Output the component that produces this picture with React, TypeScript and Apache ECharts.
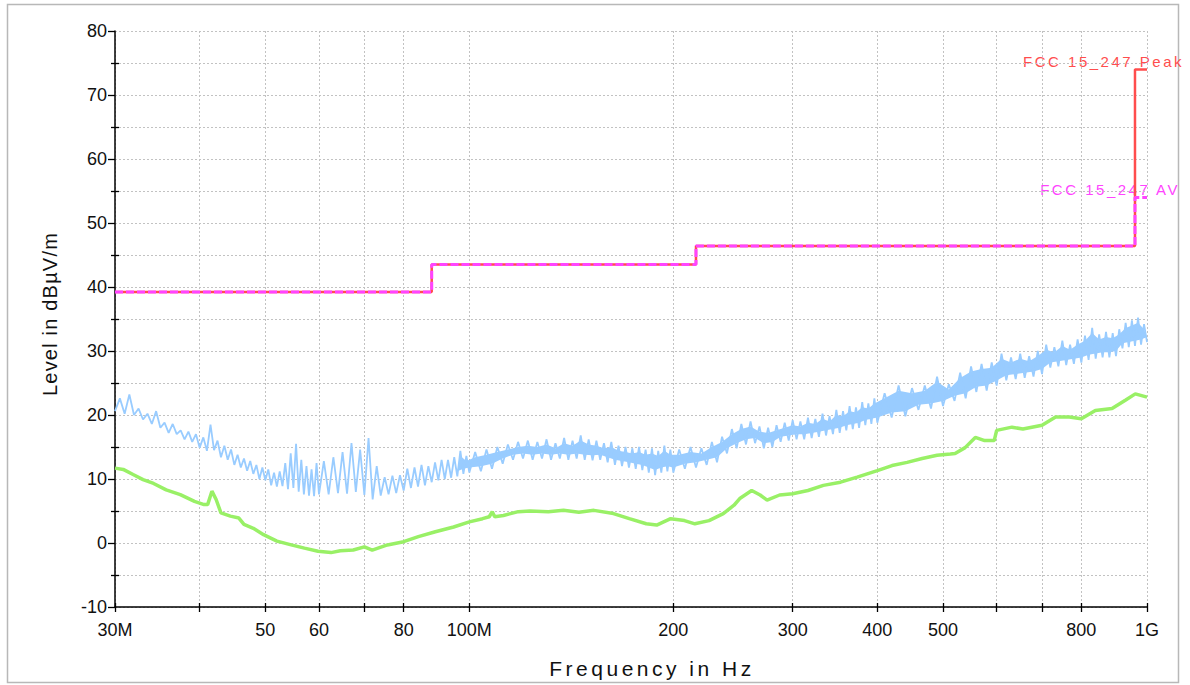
import React, { useEffect, useRef } from 'react';
import * as echarts from 'echarts';

// ---- axes (frequencies in MHz) ----
const xTickMHz = [30, 40, 50, 60, 70, 80, 100, 200, 300, 400, 500, 600, 700, 800, 1000];
const xLabelMHz = [30, 50, 60, 80, 100, 200, 300, 400, 500, 800, 1000];
const yMajor = [-10, 0, 10, 20, 30, 40, 50, 60, 70, 80];
const yMinor = [-5, 5, 15, 25, 35, 45, 55, 65, 75];

// ---- limit lines [MHz, dBuV/m] ----
const peakLimit = [[30, 39.2], [88, 39.2], [88, 43.5], [216, 43.5], [216, 46.4], [960, 46.4], [960, 74], [1000, 74]];
const avLimit = [[30, 39.2], [88, 39.2], [88, 43.5], [216, 43.5], [216, 46.4], [960, 46.4], [960, 54], [1000, 54]];

// ---- peak scan (blue): alternating low / high excursions ----
const peakScanA = [[30,20.6],[30.5,22.6],[31,20.2],[31.5,23.2],[32,20],[32.5,21],[33,19.3],[33.5,20.2],[34,18.6],[34.5,20.6],[35,18],[35.5,18.8],[36,17.2],[36.5,18.6],[37,17],[37.5,17.6],[38,16.2],[38.5,17.4],[39,15.8],[39.5,17],[40,14.9],[40.5,16.5],[41,14.4],[41.5,18.5],[42,14.5],[42.5,16],[43,13.4],[43.5,15.2],[44,13],[44.5,14.6],[45,12.2],[45.5,13.8],[46,11.8],[46.5,13.2],[47,11.3],[47.5,12.8],[48,10.8],[48.5,12.2],[49,10],[49.5,11.8],[50,9.8],[50.5,11.5],[51,9],[51.5,11],[52,8.8],[52.5,11.2],[53,8.9],[53.5,12.5],[54,8.4],[54.5,14],[55,8.6],[55.5,15.5],[56,8],[56.5,13],[57,7.6],[57.5,12],[58,7.4],[58.5,11.5],[59,7.3],[59.5,12.5],[60,7.6]];
const peakScanB = [[61,12.8],[62,7.6],[63,13.4],[64,7.8],[65,14.2],[66,7.7],[67,15.6],[68,8],[69,14.6],[70,7.5],[71,16.4],[72,6.8],[73,12],[74,7.4],[75,10.3],[76,7.6],[77,10.5],[78,7.8],[79,10.6],[80,8.2],[81,11.6],[82,8.6],[83,11.8],[84,8.8],[85,12.2],[86,9],[87,12],[88,9.5],[89,12.6],[90,9.8],[91,13],[92,10],[93,13],[94,10.2],[95,13.4],[96,10.4],[97,14.4],[98,10.8],[99,13.6],[100,11]];
const peakScanC = [[102,14.2],[104,11.2],[106,14.6],[108,11.6],[110,15],[112,12.4],[114,15.4],[116,13],[118,15.8],[120,13.2],[122,16],[124,13],[126,15.8],[128,13.2],[130,16.2],[132,13],[134,15.6],[136,13.2],[138,16.4],[140,13],[142,16],[144,13.2],[146,16.8],[148,13],[150,16.2],[152,12.9],[154,16],[156,13],[158,15.6],[160,12.6],[162,15.8],[164,12.2],[166,15.2],[168,12],[170,15],[172,11.8],[174,14.8],[176,11.6],[178,15],[180,11.4],[182,14.6],[184,11],[186,14.8],[188,10.6],[190,14.4],[192,11],[194,15.2],[196,11.2],[198,14.6],[200,11]];
const peakScanD = [[204,14.6],[208,11.6],[212,15],[216,11.8],[220,14.8],[224,12.2],[228,15.8],[232,12.6],[236,16.6],[240,14],[244,17.8],[248,14.8],[252,18.6],[256,15.4],[260,19],[264,15.6],[268,18.2],[272,14.8],[276,18],[280,15],[284,18.4],[288,15.8],[292,18.8],[296,16],[300,19.2],[304,16.2],[308,19],[312,16.2],[316,19.6],[320,16.4],[324,19.4],[328,16.6],[332,20.2],[336,16.8],[340,19.8],[344,17],[348,20.8],[352,17.2],[356,20.6],[360,17.6],[364,21.4],[368,17.8],[372,21.2],[376,18],[380,22],[384,18.4],[388,21.8],[392,18.6],[396,22.6],[400,18.8]];
const peakScanE = [[410,23.4],[420,19.6],[430,24.6],[440,19.8],[450,24.2],[460,20.8],[470,24.6],[480,21],[490,26],[500,21.4],[510,24.8],[520,22.2],[530,26.6],[540,22.6],[550,27.6],[560,23.6],[570,28],[580,23.8],[590,28.2],[600,24.6],[610,29.6],[620,25.4],[630,29],[640,25.6],[650,29.6],[660,25.8],[670,29.2],[680,26],[690,30],[700,26.4],[710,31],[720,27.4],[730,30.6],[740,27.6],[750,31.6],[760,27.8],[770,31],[780,28],[790,31.8],[800,28.2],[810,32.4],[820,28.6],[830,33.6],[840,28.8],[850,32.6],[860,29],[870,33],[880,29],[890,32.8],[900,29.2],[910,33.4],[920,30.4],[930,34.4],[940,30.6],[950,34.8],[960,30.8],[970,35.2],[980,31],[990,34.2],[1000,31.4]];

// ---- average scan (green) ----
const avgScan = [[30,11.7],[30.85,11.5],[31.9,10.7],[33,9.9],[34.2,9.3],[35.7,8.3],[37.45,7.55],[39.3,6.5],[40.6,6],[41.1,6],[41.7,8.1],[42.3,6.8],[43,4.7],[44.4,4.2],[45.7,3.9],[46.5,2.9],[48,2.3],[49.7,1.3],[52,0.3],[54.6,-0.3],[57.1,-0.8],[59.8,-1.3],[62.5,-1.5],[64.5,-1.2],[67.4,-1.1],[70,-0.6],[71.9,-1.1],[75.7,-0.3],[80,0.2],[84.1,1],[89.1,1.75],[94.8,2.5],[100,3.3],[104.6,3.8],[107,4.1],[108.1,4.9],[109,4.1],[112.3,4.3],[118.1,4.9],[122.9,5],[130.8,4.9],[137.7,5.1],[145.1,4.8],[152.7,5.1],[163.2,4.6],[172.2,3.8],[182.4,3],[189,2.8],[198.2,3.8],[207.7,3.5],[215.2,3],[225.8,3.5],[237,4.6],[245.8,5.9],[251,7],[261,8.2],[268.6,7.5],[275,6.7],[287,7.5],[300,7.7],[316,8.2],[333,9],[353,9.5],[373.5,10.3],[400,11.3],[420.5,12.1],[442.6,12.6],[465.8,13.2],[490,13.7],[512.7,13.9],[521,14],[539,14.9],[558,16.5],[576,16],[595,16],[600,17.6],[632,18.1],[656,17.8],[700,18.4],[733,19.7],[768,19.7],[800,19.4],[839,20.7],[888,21],[929,22.3],[961,23.3],[1000,22.8]];

const FONT = '"Liberation Sans", Arial, sans-serif';
const lg = (pts: number[][]) => pts.map(([f, v]) => [Math.log10(f), v]);
const fmtFreq = (v: number) => {
  const f = Math.round(Math.pow(10, v));
  if (f === 1000) return '1G';
  if (f === 30 || f === 100) return f + 'M';
  return String(f);
};

// dense part of the peak scan: high excursions are the even entries of B..E, low the odd ones.
// The filled core sits a little inside the excursions so the zigzag still shows at its edges.
const CORE_INSET = 0.8;
const bandUpper: number[][] = [];
const bandLower: number[][] = [];
[peakScanB, peakScanC, peakScanD, peakScanE].forEach((full) => {
  full.forEach((p, idx) => {
    if (p[0] < 96) return;
    if (idx % 2 === 0) bandUpper.push([p[0], p[1] - CORE_INSET]);
    else bandLower.push([p[0], p[1] + CORE_INSET]);
  });
});

const spacing: Record<string, number> = {
  'Frequency in Hz': 3.5,
  'Level in dBµV/m': 1.2,
  'FCC 15_247 Peak': 2.5,
  'FCC 15_247 AV': 2.5,
};

export default function App() {
  const ref = useRef<HTMLDivElement>(null);
  useEffect(() => {
    if (!ref.current) return;
    const chart = echarts.init(ref.current, null, { renderer: 'svg' });
    const xMin = Math.log10(30);
    const xMax = 3;
    const xTicks = xTickMHz.map((f) => Math.log10(f));
    const xLabels = xLabelMHz.map((f) => Math.log10(f));
    const axisColor = '#000';
    const gridLine = { show: true, lineStyle: { color: '#c2c2c2', type: [2, 2], width: 1 } };
    const baseX = { type: 'value', min: xMin, max: xMax, position: 'bottom', gridIndex: 0 };
    const baseY = { type: 'value', min: -10, max: 80, position: 'left', gridIndex: 0 };
    const upperLg = lg(bandUpper);
    const lowerLg = lg(bandLower);

    const option: any = {
      animation: false,
      backgroundColor: '#ffffff',
      textStyle: { fontFamily: FONT },
      grid: { left: 115, top: 31, right: 43, bottom: 78, containLabel: false, outerBoundsMode: 'none' },
      xAxis: [
        {
          ...baseX,
          axisLine: { show: true, onZero: false, lineStyle: { color: axisColor, width: 1.5 } },
          axisTick: { show: true, inside: false, length: 5, customValues: xTicks, lineStyle: { color: axisColor, width: 1.3 } },
          axisLabel: { show: true, customValues: xLabels, formatter: fmtFreq, fontSize: 18, color: '#111', margin: 14, fontFamily: FONT },
          splitLine: gridLine,
        },
        {
          ...baseX,
          axisLine: { show: false, onZero: false },
          axisTick: { show: true, inside: true, length: 4, customValues: xTicks, lineStyle: { color: axisColor, width: 1.3 } },
          axisLabel: { show: false },
          splitLine: { show: false },
        },
      ],
      yAxis: [
        {
          ...baseY,
          interval: 5,
          axisLine: { show: true, onZero: false, lineStyle: { color: axisColor, width: 1.5 } },
          axisTick: { show: false },
          axisLabel: { show: true, customValues: yMajor, fontSize: 18, color: '#111', margin: 8, fontFamily: FONT },
          splitLine: gridLine,
        },
        {
          ...baseY,
          axisLine: { show: false, onZero: false },
          axisTick: { show: true, inside: false, length: 7, customValues: yMajor, lineStyle: { color: axisColor, width: 1.3 } },
          axisLabel: { show: false },
          splitLine: { show: false },
        },
        {
          ...baseY,
          axisLine: { show: false, onZero: false },
          axisTick: { show: true, inside: false, length: 4, customValues: yMinor, lineStyle: { color: axisColor, width: 1.3 } },
          axisLabel: { show: false },
          splitLine: { show: false },
        },
        {
          ...baseY,
          axisLine: { show: false, onZero: false },
          axisTick: { show: true, inside: true, length: 4, customValues: yMinor, lineStyle: { color: axisColor, width: 1.3 } },
          axisLabel: { show: false },
          splitLine: { show: false },
        },
      ],
      series: [
        {
          name: 'Peak scan core', type: 'custom', xAxisIndex: 0, yAxisIndex: 0, silent: true,
          data: [[upperLg[0][0], upperLg[0][1]]],
          renderItem: (_params: any, api: any) => {
            const pts = upperLg.map((p) => api.coord(p)).concat(lowerLg.slice().reverse().map((p) => api.coord(p)));
            return { type: 'polygon', shape: { points: pts }, style: { fill: '#99ccff', stroke: 'none' } };
          },
          z: 1,
        },
        {
          name: 'Peak scan', type: 'line', xAxisIndex: 0, yAxisIndex: 0, showSymbol: false, silent: true,
          lineStyle: { color: '#99ccff', width: 1.8 },
          data: lg([...peakScanA, ...peakScanB, ...peakScanC, ...peakScanD, ...peakScanE]),
          z: 2,
        },
        {
          name: 'Average scan', type: 'line', xAxisIndex: 0, yAxisIndex: 0, showSymbol: false, silent: true,
          lineStyle: { color: '#99f066', width: 3.5 },
          data: lg(avgScan),
          z: 3,
        },
        {
          name: 'FCC 15_247 Peak', type: 'line', xAxisIndex: 0, yAxisIndex: 0, showSymbol: false, silent: true,
          lineStyle: { color: '#ff4d4d', width: 2.5 },
          data: lg(peakLimit),
          z: 4,
        },
        {
          name: 'FCC 15_247 AV', type: 'line', xAxisIndex: 0, yAxisIndex: 0, showSymbol: false, silent: true,
          lineStyle: { color: '#ff44ff', width: 3, type: [8, 3] },
          data: lg(avLimit),
          z: 5,
        },
      ],
      graphic: [
        {
          type: 'rect', silent: true,
          shape: { x: 7.5, y: 4.5, width: 1171, height: 678 },
          style: { fill: 'none', stroke: '#b8b8b8', lineWidth: 1.5 },
        },
        {
          type: 'text', x: 652, y: 668, silent: true,
          style: { text: 'Frequency in Hz', font: `21px ${FONT}`, fill: '#111', textAlign: 'center', textVerticalAlign: 'middle', align: 'center', verticalAlign: 'middle' },
        },
        {
          type: 'text', x: 50, y: 314, rotation: Math.PI / 2, silent: true,
          style: { text: 'Level in dBµV/m', font: `20px ${FONT}`, fill: '#111', textAlign: 'center', textVerticalAlign: 'middle', align: 'center', verticalAlign: 'middle' },
        },
        {
          type: 'text', x: 1184, y: 61, silent: true,
          style: { text: 'FCC 15_247 Peak', font: `15px ${FONT}`, fill: '#ff4d4d', textAlign: 'right', textVerticalAlign: 'middle', align: 'right', verticalAlign: 'middle' },
        },
        {
          type: 'text', x: 1180, y: 189, silent: true,
          style: { text: 'FCC 15_247 AV', font: `15px ${FONT}`, fill: '#ff44ff', textAlign: 'right', textVerticalAlign: 'middle', align: 'right', verticalAlign: 'middle' },
        },
      ],
    };
    chart.setOption(option);

    const applySpacing = () => {
      const root = ref.current;
      if (!root) return;
      root.querySelectorAll('text').forEach((t) => {
        const s = (t.textContent || '').trim();
        if (spacing[s] !== undefined) t.setAttribute('letter-spacing', String(spacing[s]));
      });
    };
    applySpacing();
    chart.on('finished', applySpacing);

    return () => {
      chart.dispose();
    };
  }, []);

  return <div ref={ref} style={{ position: 'absolute', left: 0, top: 0, width: 1190, height: 685 }} />;
}
